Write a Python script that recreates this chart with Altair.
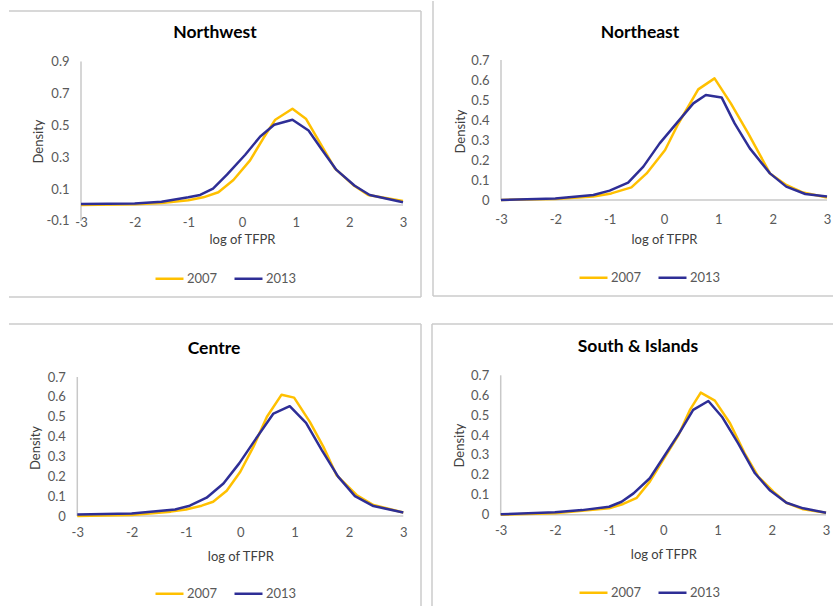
import altair as alt
import pandas as pd

# ---- series: kernel density of log TFPR by macro-region, 2007 vs 2013 ----
YEARS = ["2007", "2013"]
COLORS = ["#FFC000", "#2E2E96"]
X_TICKS = [-3, -2, -1, 0, 1, 2, 3]

NW_2007_X = [-3, -2, -1.5, -1.0, -0.72, -0.44, -0.16, 0.15, 0.40, 0.62, 0.94, 1.19, 1.44, 1.73, 2.07, 2.35, 3]
NW_2007_Y = [0.0, 0.005, 0.012, 0.03, 0.048, 0.08, 0.157, 0.28, 0.42, 0.535, 0.604, 0.541, 0.398, 0.23, 0.126, 0.063, 0.025]
NW_2013_X = [-3, -2, -1.5, -1.0, -0.78, -0.54, -0.28, 0.06, 0.34, 0.60, 0.94, 1.24, 1.49, 1.76, 2.10, 2.38, 3]
NW_2013_Y = [0.006, 0.01, 0.02, 0.048, 0.063, 0.103, 0.19, 0.315, 0.43, 0.503, 0.535, 0.467, 0.346, 0.22, 0.121, 0.063, 0.017]

NE_2007_X = [-3, -2, -1.3, -0.97, -0.6, -0.32, 0.02, 0.26, 0.63, 0.93, 1.23, 1.55, 1.95, 2.25, 2.56, 3]
NE_2007_Y = [0.0, 0.005, 0.017, 0.033, 0.063, 0.133, 0.25, 0.38, 0.553, 0.608, 0.483, 0.333, 0.133, 0.075, 0.037, 0.013]
NE_2013_X = [-3, -2, -1.3, -1.0, -0.66, -0.38, -0.08, 0.23, 0.54, 0.77, 1.06, 1.30, 1.58, 1.95, 2.25, 2.6, 3]
NE_2013_Y = [0.0, 0.008, 0.025, 0.047, 0.087, 0.167, 0.283, 0.383, 0.483, 0.525, 0.513, 0.383, 0.258, 0.133, 0.067, 0.03, 0.017]

C_2007_X = [-3, -2, -1.28, -1.0, -0.71, -0.5, -0.25, 0.0, 0.24, 0.49, 0.76, 0.99, 1.28, 1.53, 1.77, 2.14, 2.45, 3]
C_2007_Y = [0.0, 0.005, 0.022, 0.033, 0.052, 0.072, 0.127, 0.223, 0.348, 0.5, 0.611, 0.596, 0.474, 0.348, 0.206, 0.106, 0.055, 0.018]
C_2013_X = [-3, -2, -1.5, -1.2, -0.93, -0.62, -0.31, -0.02, 0.27, 0.61, 0.91, 1.21, 1.5, 1.8, 2.11, 2.45, 3]
C_2013_Y = [0.008, 0.013, 0.025, 0.033, 0.052, 0.092, 0.164, 0.265, 0.382, 0.516, 0.553, 0.469, 0.332, 0.198, 0.1, 0.05, 0.018]

S_2007_X = [-3, -2, -1.0, -0.74, -0.49, -0.25, 0.03, 0.28, 0.49, 0.69, 0.95, 1.23, 1.5, 1.75, 2.03, 2.27, 2.58, 3]
S_2007_Y = [0.0, 0.007, 0.032, 0.054, 0.085, 0.166, 0.291, 0.4, 0.526, 0.613, 0.573, 0.459, 0.308, 0.191, 0.116, 0.06, 0.027, 0.01]
S_2013_X = [-3, -2, -1.5, -1.0, -0.77, -0.55, -0.25, 0.03, 0.31, 0.55, 0.83, 1.08, 1.38, 1.69, 1.97, 2.27, 2.58, 3]
S_2013_Y = [0.002, 0.012, 0.023, 0.04, 0.065, 0.107, 0.183, 0.3, 0.417, 0.526, 0.571, 0.492, 0.358, 0.208, 0.121, 0.06, 0.032, 0.01]

NW_TICKS = [-0.1, 0.1, 0.3, 0.5, 0.7, 0.9]
OTHER_TICKS = [0, 0.1, 0.2, 0.3, 0.4, 0.5, 0.6, 0.7]

FONT = "Lato"
AXIS_GREY = "#c8c8c8"
BORDER_GREY = "#cbcbcb"
LABEL_GREY = "#595959"
TITLE_GREY = "#404040"


def panel(name, series, W, H, xa, xb, y0px, ytop_val, ytop_px, yticks,
          ymin, ymax, xlab_pad, ytitle_x, ytitle_y, xtitle_y, title_xy,
          legend_xy, borders):
    """One framed chart cell: the plot area sits inside a W x H cell."""
    u = 6.0 / (xb - xa)
    xdom = [-3 - xa * u, 3 + (W - xb) * u]
    k = ytop_val / (y0px - ytop_px)
    ydom = [-(H - y0px) * k, ytop_val + ytop_px * k]

    rows = []
    for year, xs, ys in series:
        for xv, yv in zip(xs, ys):
            rows.append({"x": xv, "density": yv, "year": year})
    df = pd.DataFrame(rows)

    x_axis = alt.Axis(
        values=X_TICKS, labelExpr="'' + datum.value", domain=False,
        ticks=False, tickSize=0, grid=False, offset=y0px - H,
        labelPadding=xlab_pad, labelFlush=False, labelFont=FONT,
        labelFontSize=13, labelColor=LABEL_GREY,
        title="log of TFPR", titleX=(xa + xb) / 2, titleY=xtitle_y - y0px,
        titleBaseline="middle", titleAlign="center", titleFont=FONT,
        titleFontSize=13, titleFontWeight="normal", titleColor=TITLE_GREY,
    )
    y_axis = alt.Axis(
        values=yticks, labelExpr="'' + datum.value", domain=False,
        ticks=False, tickSize=0, grid=False, offset=-xa, labelPadding=12,
        labelFont=FONT, labelFontSize=13, labelColor=LABEL_GREY,
        title="Density", titleX=ytitle_x - xa, titleY=ytitle_y,
        titleAngle=270, titleBaseline="middle", titleAlign="center",
        titleFont=FONT, titleFontSize=13, titleFontWeight="normal",
        titleColor=TITLE_GREY,
    )
    x_scale = alt.Scale(domain=xdom, nice=False, zero=False)
    y_scale = alt.Scale(domain=ydom, nice=False, zero=False)

    # axis lines: horizontal at density 0, vertical at x = -3
    axes_df = pd.DataFrame({"x": [-3, -3], "x2": [3, -3],
                            "density": [0, ymin], "density2": [0, ymax]})
    axis_lines = alt.Chart(axes_df).mark_rule(
        color=AXIS_GREY, strokeWidth=1.5
    ).encode(
        x=alt.X("x:Q", scale=x_scale, axis=x_axis), x2="x2:Q",
        y=alt.Y("density:Q", scale=y_scale, axis=y_axis), y2="density2:Q",
    )

    lines = alt.Chart(df).mark_line(strokeWidth=2.5, strokeJoin="round").encode(
        x=alt.X("x:Q", scale=x_scale, axis=x_axis),
        y=alt.Y("density:Q", scale=y_scale, axis=y_axis),
        color=alt.Color(
            "year:N", scale=alt.Scale(domain=YEARS, range=COLORS),
            legend=alt.Legend(
                orient="none", legendX=legend_xy[0], legendY=legend_xy[1] - 14,
                direction="horizontal", title=None, symbolType="stroke",
                symbolSize=784, symbolStrokeWidth=2.5, labelFont=FONT,
                labelFontSize=13, labelColor=LABEL_GREY, labelOffset=2,
                columnPadding=11, padding=0,
            ),
        ),
        order=alt.Order("x:Q"),
    )

    title = alt.Chart(pd.DataFrame({"name": [name]})).mark_text(
        font=FONT, fontSize=17.5, fontWeight="bold", color="#000000",
        align="center", baseline="middle",
    ).encode(x=alt.value(title_xy[0]), y=alt.value(title_xy[1]), text="name:N")

    layers = []
    for (bx, bx2, by, by2) in borders:
        layers.append(
            alt.Chart(pd.DataFrame({"k": [0]})).mark_rule(
                color=BORDER_GREY, strokeWidth=1.5
            ).encode(x=alt.value(bx), x2=alt.value(bx2),
                     y=alt.value(by), y2=alt.value(by2))
        )
    layers += [axis_lines, lines, title]
    return alt.layer(*layers).properties(width=W, height=H)


nw = panel("Northwest",
           [("2007", NW_2007_X, NW_2007_Y), ("2013", NW_2013_X, NW_2013_Y)],
           W=427, H=310, xa=81, xb=403, y0px=205, ytop_val=0.9, ytop_px=61.5,
           yticks=NW_TICKS, ymin=-0.1, ymax=0.9, xlab_pad=11,
           ytitle_x=38, ytitle_y=141, xtitle_y=239, title_xy=(215, 33),
           legend_xy=(154, 277),
           borders=[(9, 421, 11, 11), (421, 421, 11, 297), (9, 421, 297, 297)])

ne = panel("Northeast",
           [("2007", NE_2007_X, NE_2007_Y), ("2013", NE_2013_X, NE_2013_Y)],
           W=407, H=310, xa=74, xb=400, y0px=200, ytop_val=0.7, ytop_px=60,
           yticks=OTHER_TICKS, ymin=0, ymax=0.7, xlab_pad=13,
           ytitle_x=33, ytitle_y=131, xtitle_y=239, title_xy=(213, 33),
           legend_xy=(151, 276),
           borders=[(6, 6, 1, 296), (6, 406, 296, 296)])

ce = panel("Centre",
           [("2007", C_2007_X, C_2007_Y), ("2013", C_2013_X, C_2013_Y)],
           W=427, H=297, xa=77.3, xb=403.3, y0px=206, ytop_val=0.7, ytop_px=67,
           yticks=OTHER_TICKS, ymin=0, ymax=0.7, xlab_pad=10,
           ytitle_x=35, ytitle_y=137.5, xtitle_y=246, title_xy=(214, 39),
           legend_xy=(154, 282),
           borders=[(9, 421, 14, 14), (421, 421, 14, 296)])

so = panel("South & Islands",
           [("2007", S_2007_X, S_2007_Y), ("2013", S_2013_X, S_2013_Y)],
           W=407, H=297, xa=73.7, xb=399, y0px=204.7, ytop_val=0.7, ytop_px=65.3,
           yticks=OTHER_TICKS, ymin=0, ymax=0.7, xlab_pad=10,
           ytitle_x=32, ytitle_y=135, xtitle_y=244, title_xy=(211, 37),
           legend_xy=(151, 281),
           borders=[(5, 5, 14, 296), (5, 406, 14, 14)])

top = alt.hconcat(nw, ne, spacing=0).resolve_scale(color="independent")
bottom = alt.hconcat(ce, so, spacing=0).resolve_scale(color="independent")

chart = alt.vconcat(top, bottom, spacing=0, padding=0, background="white") \
    .resolve_scale(color="independent") \
    .configure_view(stroke=None)

chart.save("out.html", embed_options={"renderer": "svg", "actions": False})
